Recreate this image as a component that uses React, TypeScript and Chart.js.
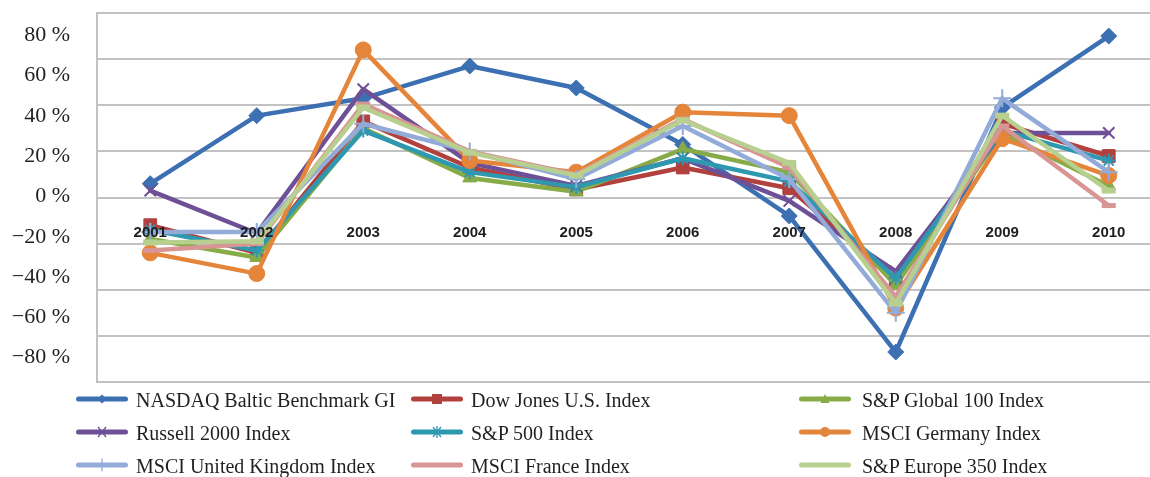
import React, { useEffect, useRef } from "react";
import { Chart, registerables } from "chart.js";

Chart.register(...registerables);

const YEARS = ["2001", "2002", "2003", "2004", "2005", "2006", "2007", "2008", "2009", "2010"];
const Y_TICKS = [80, 60, 40, 20, 0, -20, -40, -60, -80];

const NASDAQ_BALTIC = [6, 35.5, 43, 57, 47.5, 23, -8, -67, 39, 70];
const DOW_JONES = [-12, -24, 33, 13, 3.5, 13, 4, -36, 32, 18];
const SP_GLOBAL_100 = [-18, -26, 30, 8.5, 2.5, 21, 11, -38, 28, 5];
const RUSSELL_2000 = [3, -15.5, 47, 15, 5, 17, -1.5, -32, 28, 28];
const SP_500 = [-14, -23, 29, 11, 4.5, 17, 7, -35, 29, 16];
const MSCI_GERMANY = [-24, -33, 64, 16, 11, 37, 35.5, -48, 25.5, 9.5];
const MSCI_UK = [-15, -15, 32, 20, 8, 31, 8, -50, 43, 11];
const MSCI_FRANCE = [-23, -20, 40.5, 20, 10, 34, 13, -43, 31, -3.5];
const SP_EUROPE_350 = [-19.5, -19, 39, 19.5, 9.5, 33.5, 15, -46, 35.5, 3];

type S = {
  name: string;
  data: number[];
  color: string;
  style: string;
  radius: number;
  pbw: number;
  marker: string;
};

const SERIES: S[] = [
  { name: "NASDAQ Baltic Benchmark GI", data: NASDAQ_BALTIC, color: "#3c70b2", style: "rectRot", radius: 8, pbw: 1, marker: "diamond" },
  { name: "Dow Jones U.S. Index", data: DOW_JONES, color: "#b2403d", style: "rect", radius: 9, pbw: 1, marker: "square" },
  { name: "S&P Global 100 Index", data: SP_GLOBAL_100, color: "#86ab47", style: "triangle", radius: 8, pbw: 1, marker: "triangle" },
  { name: "Russell 2000 Index", data: RUSSELL_2000, color: "#6e5096", style: "crossRot", radius: 8, pbw: 2, marker: "x" },
  { name: "S&P 500 Index", data: SP_500, color: "#2f98b1", style: "star", radius: 7, pbw: 2, marker: "star" },
  { name: "MSCI Germany Index", data: MSCI_GERMANY, color: "#e5853a", style: "circle", radius: 8, pbw: 1, marker: "circle" },
  { name: "MSCI United Kingdom Index", data: MSCI_UK, color: "#93abd8", style: "cross", radius: 9, pbw: 2, marker: "plus" },
  { name: "MSCI France Index", data: MSCI_FRANCE, color: "#d99594", style: "line", radius: 7, pbw: 5, marker: "none" },
  { name: "S&P Europe 350 Index", data: SP_EUROPE_350, color: "#b7d08f", style: "line", radius: 7, pbw: 6, marker: "none" },
];

const LEGEND_COL_LINE_X = [77, 412, 800];
const LEGEND_COL_TEXT_X = [136, 471, 862];
const LEGEND_ROW_TOP = [384, 416.5, 449.5];

function Marker({ kind, color }: { kind: string; color: string }) {
  let m: React.ReactNode = null;
  if (kind === "diamond") m = <polygon points="26,3.5 30.5,8 26,12.5 21.5,8" fill={color} />;
  else if (kind === "square") m = <rect x={21} y={3} width={10} height={10} fill={color} />;
  else if (kind === "triangle") m = <polygon points="26,3 30.5,12 21.5,12" fill={color} />;
  else if (kind === "x")
    m = (
      <g stroke={color} strokeWidth={1.3}>
        <line x1={22} y1={3} x2={30} y2={13} />
        <line x1={22} y1={13} x2={30} y2={3} />
      </g>
    );
  else if (kind === "star")
    m = (
      <g stroke={color} strokeWidth={1.3}>
        <line x1={22} y1={3} x2={30} y2={13} />
        <line x1={22} y1={13} x2={30} y2={3} />
        <line x1={26} y1={2} x2={26} y2={14} />
      </g>
    );
  else if (kind === "circle") m = <circle cx={26} cy={8} r={5} fill={color} />;
  else if (kind === "plus") m = <line x1={26} y1={1.5} x2={26} y2={14.5} stroke={color} strokeWidth={1.3} />;
  return (
    <svg width={52} height={16} style={{ position: "absolute", left: 0, top: 0, overflow: "visible" }}>
      <line x1={2.5} y1={8} x2={49.5} y2={8} stroke={color} strokeWidth={5} strokeLinecap="round" />
      {m}
    </svg>
  );
}

export default function App() {
  const ref = useRef<HTMLCanvasElement | null>(null);

  useEffect(() => {
    if (!ref.current) return;
    const n = SERIES.length;
    const chart = new Chart(ref.current, {
      type: "line",
      data: {
        labels: YEARS,
        datasets: SERIES.map((s, i) => ({
          label: s.name,
          data: s.data,
          borderColor: s.color,
          backgroundColor: s.color,
          borderWidth: 4.5,
          borderJoinStyle: "round" as const,
          borderCapStyle: "round" as const,
          pointStyle: s.style as any,
          pointRadius: s.radius,
          pointBorderWidth: s.pbw,
          pointBackgroundColor: s.color,
          pointBorderColor: s.color,
          tension: 0,
          fill: false,
          order: n - i,
        })),
      },
      options: {
        animation: false,
        responsive: false,
        layout: { padding: { left: 0, top: 12, right: 12, bottom: 95 } },
        plugins: { legend: { display: false }, tooltip: { enabled: false } },
        scales: {
          x: {
            type: "category",
            offset: true,
            position: { y: 0 } as any,
            grid: { display: false, drawTicks: false },
            border: { display: false },
            ticks: {
              z: 1,
              padding: 26,
              maxRotation: 0,
              autoSkip: false,
              color: "#1e1e1e",
              font: { family: "'Liberation Sans', Arial, sans-serif", size: 15, weight: "bold" },
            },
            afterFit: (scale: any) => {
              scale.height = 0;
              scale.paddingLeft = 0;
              scale.paddingRight = 0;
            },
          },
          y: {
            type: "linear",
            position: "left",
            weight: 0,
            min: -80,
            max: 80,
            ticks: { stepSize: 20, display: false },
            grid: { color: "#c2c2c2", lineWidth: 2, drawTicks: false },
            border: { display: true, color: "#c2c2c2", width: 2 },
            afterFit: (scale: any) => {
              scale.width = 0;
              scale.paddingTop = 0;
              scale.paddingBottom = 0;
            },
          },
          yl: {
            type: "linear",
            position: "left",
            weight: 1,
            min: -92.1,
            max: 91.1,
            grid: { display: false, drawTicks: false },
            border: { display: false },
            afterBuildTicks: (axis: any) => {
              axis.ticks = Y_TICKS.map((v) => ({ value: v }));
            },
            afterFit: (scale: any) => {
              scale.width = 97;
              scale.paddingTop = 0;
              scale.paddingBottom = 0;
            },
            ticks: {
              padding: 27,
              color: "#231f20",
              font: { family: "'Liberation Serif', 'Times New Roman', serif", size: 22, lineHeight: 1 },
              callback: (v: any) => {
                const num = Number(v);
                return (num < 0 ? "\u2212" + Math.abs(num) : String(num)) + " %";
              },
            },
          },
        } as any,
      },
    });
    return () => chart.destroy();
  }, []);

  return (
    <div
      style={{
        position: "absolute",
        left: 0,
        top: 0,
        width: 1150,
        height: 477,
        overflow: "hidden",
        background: "#ffffff",
      }}
    >
      <canvas ref={ref} width={1175} height={477} style={{ display: "block", position: "absolute", left: 0, top: 0 }} />
      {SERIES.map((s, i) => {
        const col = i % 3;
        const row = Math.floor(i / 3);
        return (
          <div key={s.name}>
            <div
              style={{
                position: "absolute",
                left: LEGEND_COL_LINE_X[col] - 1,
                top: LEGEND_ROW_TOP[row] + 15 - 8,
                width: 52,
                height: 16,
              }}
            >
              <Marker kind={s.marker} color={s.color} />
            </div>
            <div
              style={{
                position: "absolute",
                left: LEGEND_COL_TEXT_X[col],
                top: LEGEND_ROW_TOP[row],
                height: 32,
                lineHeight: "32px",
                fontFamily: "'Liberation Serif', 'Times New Roman', serif",
                fontSize: 20,
                color: "#231f20",
                whiteSpace: "nowrap",
              }}
            >
              {s.name}
            </div>
          </div>
        );
      })}
    </div>
  );
}
